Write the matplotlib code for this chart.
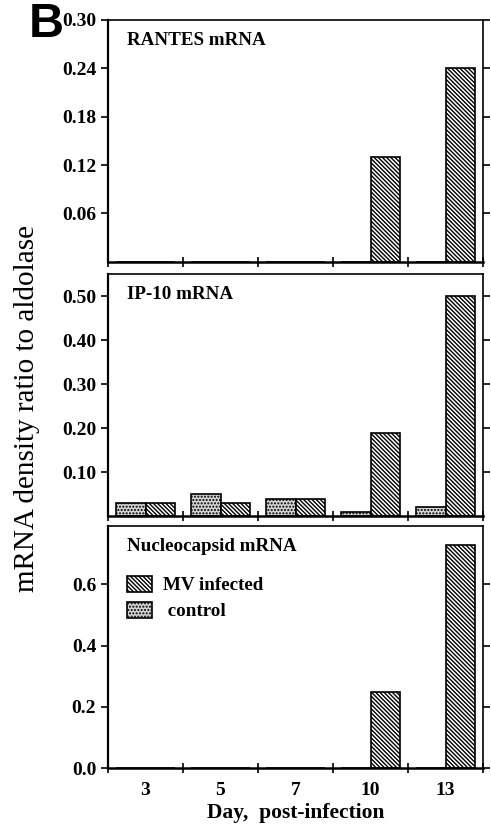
import numpy as np
import matplotlib
matplotlib.use('Agg')
from matplotlib import pyplot as plt
from matplotlib.patches import Patch

days = ['3', '5', '7', '10', '13']
rantes_mv = [0, 0, 0, 0.13, 0.24]
rantes_ctrl = [0, 0, 0, 0, 0]
ip10_mv = [0.03, 0.03, 0.04, 0.19, 0.50]
ip10_ctrl = [0.03, 0.05, 0.04, 0.01, 0.02]
nuc_mv = [0, 0, 0, 0.25, 0.73]
nuc_ctrl = [0, 0, 0, 0, 0]

panels = [
    ('RANTES mRNA', rantes_ctrl, rantes_mv, 0.30, [0.06, 0.12, 0.18, 0.24, 0.30], '{:.2f}'),
    ('IP-10 mRNA', ip10_ctrl, ip10_mv, 0.55, [0.10, 0.20, 0.30, 0.40, 0.50], '{:.2f}'),
    ('Nucleocapsid mRNA', nuc_ctrl, nuc_mv, 0.79, [0.0, 0.2, 0.4, 0.6], '{:.1f}'),
]

plt.rcParams['font.family'] = 'Liberation Serif'
plt.rcParams['font.weight'] = 'bold'
plt.rcParams['hatch.linewidth'] = 1.0

mv_hatch = '\\' * 8
ctrl_hatch = '.....'
ctrl_color = '#d4d4d4'

fig = plt.figure(figsize=(4.91, 8.26), dpi=100)
left, width = 0.220, 0.764
bottoms = [0.683, 0.375, 0.070]
height = 0.293

x = np.arange(len(days))
bw = 0.39
for i, (title, ctrl, mv, ymax, yt, fmt) in enumerate(panels):
    ax = fig.add_axes([left, bottoms[i], width, height])
    ax.bar(x - bw / 2, ctrl, width=bw, color=ctrl_color, edgecolor='black',
           hatch=ctrl_hatch, linewidth=1.2)
    ax.bar(x + bw / 2, mv, width=bw, color='white', edgecolor='black',
           hatch=mv_hatch, linewidth=1.2)
    ax.set_xlim(-0.5, 4.5)
    ax.set_ylim(0, ymax)
    ax.set_yticks(yt)
    ax.set_yticklabels([fmt.format(v) for v in yt], fontsize=14, fontweight='bold')
    ax.tick_params(axis='y', direction='out', length=5, width=1.2,
                   right=True, labelright=False)
    ax.set_xticks(np.arange(-0.5, 5, 1))
    ax.set_xticklabels([])
    ax.tick_params(axis='x', direction='inout', length=7, width=1.2)
    for s in ax.spines.values():
        s.set_linewidth(1.2)
    ax.spines['bottom'].set_linewidth(1.8)
    ax.spines['left'].set_linewidth(1.6)
    ax.text(0.05, 0.95, title, transform=ax.transAxes, fontsize=13.7,
            fontweight='bold', va='top', ha='left')
    if i == 2:
        ax.set_xticks(x, minor=True)
        ax.set_xticklabels(days, minor=True, fontsize=14, fontweight='bold')
        ax.tick_params(axis='x', which='minor', length=0, pad=10)
        ax.set_xlabel('Day,  post-infection', fontsize=15.5, fontweight='bold', labelpad=3)
        handles = [Patch(facecolor='white', edgecolor='black', hatch=mv_hatch, linewidth=1.2),
                   Patch(facecolor=ctrl_color, edgecolor='black', hatch=ctrl_hatch, linewidth=1.2)]
        ax.legend(handles, ['MV infected', ' control'], loc='upper left',
                  bbox_to_anchor=(0.05, 0.795), frameon=False, borderpad=0,
                  borderaxespad=0, prop={'size': 13.7, 'weight': 'bold'},
                  handlelength=1.3, handleheight=0.9, labelspacing=0.4,
                  handletextpad=0.6)

fig.text(0.055, 0.505, 'mRNA density ratio to aldolase', rotation=90,
         fontsize=21, fontweight='normal', ha='center', va='center')
fig.text(0.058, 0.997, 'B', fontsize=35, fontweight='bold',
         family='Liberation Sans', ha='left', va='top')

fig.savefig('out.png', dpi=100)
